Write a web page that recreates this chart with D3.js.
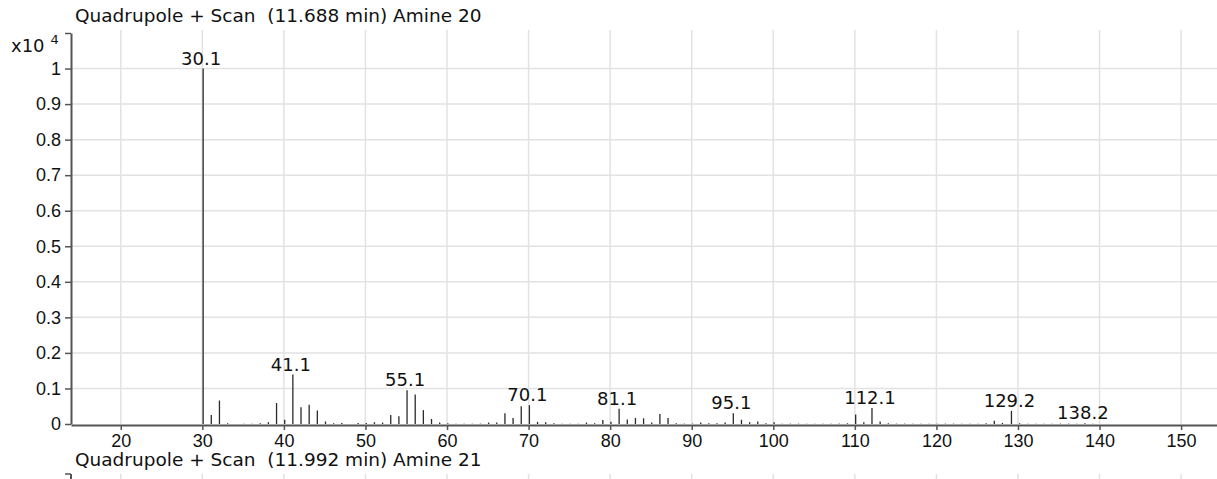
<!DOCTYPE html>
<html>
<head>
<meta charset="utf-8">
<script src="https://cdn.jsdelivr.net/npm/d3@7"></script>
<style>
  body { margin: 0; background: #fff; }
  svg { display: block; font-family: "DejaVu Sans", sans-serif; }
  text { white-space: pre; }
</style>
</head>
<body>
<svg width="1217" height="479"></svg>
<script>

// spectrum data (intensity in units of 10^4 counts)
var masses = [30.1, 31.1, 32.1, 33.1, 35.1, 36.1, 37.1, 38.1, 39.1, 40.1,
  41.1, 42.1, 43.1, 44.1, 45.1, 46.1, 47.1, 49.1, 50.1, 51.1,
  52.1, 53.1, 54.1, 55.1, 56.1, 57.1, 58.1, 59.1, 60.1, 61.1,
  62.1, 63.1, 64.1, 65.1, 66.1, 67.1, 68.1, 69.1, 70.1, 71.1,
  72.1, 73.1, 74.1, 75.1, 76.1, 77.1, 78.1, 79.1, 80.1, 81.1,
  82.1, 83.1, 84.1, 85.1, 86.1, 87.1, 88.1, 89.1, 90.1, 91.1,
  92.1, 93.1, 94.1, 95.1, 96.1, 97.1, 98.1, 99.1, 100.1, 101.1,
  102.1, 103.1, 104.1, 105.1, 106.1, 107.1, 108.1, 109.1, 110.1, 111.1,
  112.1, 113.1, 114.1, 115.1, 116.1, 117.1, 118.1, 119.1, 120.1, 121.1,
  122.1, 123.1, 124.1, 125.1, 126.1, 127.1, 128.1, 129.2, 130.2, 131.2,
  132.2, 133.2, 134.2, 135.2, 136.2, 137.2, 138.2, 139.2];
var intensities = [1.0, 0.025, 0.066, 0.002, 0.001, 0.001, 0.002, 0.005, 0.059, 0.012,
  0.139, 0.047, 0.054, 0.038, 0.007, 0.002, 0.003, 0.003, 0.003, 0.005,
  0.004, 0.025, 0.022, 0.095, 0.083, 0.039, 0.014, 0.004, 0.002, 0.001,
  0.001, 0.001, 0.001, 0.004, 0.004, 0.030, 0.017, 0.050, 0.053, 0.006,
  0.005, 0.002, 0.001, 0.001, 0.001, 0.004, 0.002, 0.011, 0.006, 0.043,
  0.013, 0.017, 0.016, 0.004, 0.028, 0.017, 0.002, 0.001, 0.001, 0.004,
  0.002, 0.002, 0.004, 0.030, 0.012, 0.005, 0.007, 0.002, 0.005, 0.001,
  0.001, 0.001, 0.001, 0.001, 0.001, 0.001, 0.001, 0.002, 0.027, 0.005,
  0.045, 0.007, 0.002, 0.001, 0.001, 0.001, 0.001, 0.001, 0.001, 0.001,
  0.001, 0.001, 0.001, 0.001, 0.002, 0.009, 0.003, 0.037, 0.002, 0.001,
  0.001, 0.001, 0.001, 0.001, 0.001, 0.001, 0.002, 0.001];

var labelled = [30.1, 41.1, 55.1, 70.1, 81.1, 95.1, 112.1, 129.2, 138.2];

var xTicks = [20, 30, 40, 50, 60, 70, 80, 90, 100, 110, 120, 130, 140, 150];
var yTicks = [0, 0.1, 0.2, 0.3, 0.4, 0.5, 0.6, 0.7, 0.8, 0.9, 1];

var titleTop = "Quadrupole + Scan  (11.688 min) Amine 20";
var titleNext = "Quadrupole + Scan  (11.992 min) Amine 21";

var svg = d3.select("svg"),
    plotLeft = 71,
    plotRight = 1217,
    plotTop = 33,
    plotBottom = 424,
    fs = 18;

var x = d3.scaleLinear().domain([13.9, 154.4]).range([plotLeft, plotRight]);
var y = d3.scaleLinear().domain([0, 1.1]).range([plotBottom, plotTop]);

// grid
svg.append("g")
  .selectAll("line")
  .data(xTicks)
  .join("line")
    .attr("x1", d => x(d)).attr("x2", d => x(d))
    .attr("y1", plotTop - 3).attr("y2", plotBottom)
    .attr("stroke", "#e2e2e2")
    .attr("stroke-width", 1.5);

svg.append("g")
  .selectAll("line")
  .data(yTicks.slice(1))
  .join("line")
    .attr("x1", plotLeft).attr("x2", plotRight)
    .attr("y1", d => y(d)).attr("y2", d => y(d))
    .attr("stroke", "#e2e2e2")
    .attr("stroke-width", 1.5);

// title
svg.append("text")
  .attr("x", 75).attr("y", 22)
  .attr("font-size", 18.5)
  .attr("fill", "#111")
  .text(titleTop);

// peaks
var peaks = masses.map(function(m, i) { return {mz: m, v: intensities[i]}; });

svg.append("g")
  .selectAll("line")
  .data(peaks)
  .join("line")
    .attr("x1", d => x(d.mz)).attr("x2", d => x(d.mz))
    .attr("y1", y(0)).attr("y2", d => y(d.v))
    .attr("stroke", "#2a2a2a")
    .attr("stroke-width", 1.3);

svg.append("g")
  .selectAll("text")
  .data(peaks.filter(d => labelled.indexOf(d.mz) >= 0))
  .join("text")
    .attr("x", d => x(d.mz) - 2)
    .attr("y", d => y(d.v) - 4)
    .attr("text-anchor", "middle")
    .attr("font-size", fs)
    .attr("fill", "#111")
    .text(d => d.mz.toFixed(1));

// axes
var xAxis = svg.append("g")
  .attr("transform", "translate(0," + (plotBottom + 1) + ")")
  .call(d3.axisBottom(x).tickValues(xTicks).tickSize(5).tickSizeOuter(0).tickPadding(4));

var yAxis = svg.append("g")
  .attr("transform", "translate(" + plotLeft + ",0)")
  .call(d3.axisLeft(y).tickValues(yTicks.concat([1.1])).tickSize(6).tickSizeOuter(0).tickPadding(4)
    .tickFormat(d => d > 1 ? "" : d3.format("~g")(d)));

[xAxis, yAxis].forEach(function(g) {
  g.select(".domain").attr("stroke", "#555").attr("stroke-width", 2);
  g.selectAll(".tick line").attr("stroke", "#555").attr("stroke-width", 1.5);
  g.selectAll(".tick text").attr("font-size", fs).attr("fill", "#111")
    .attr("font-family", null);
});

// exponent label
var expo = svg.append("text")
  .attr("x", 11).attr("y", 52)
  .attr("font-size", fs)
  .attr("fill", "#111");
expo.append("tspan").text("x10");
expo.append("tspan").attr("dx", 6).attr("dy", -8).attr("font-size", 13).text("4");

// next panel, cut off by the window
svg.append("text")
  .attr("x", 75).attr("y", 466)
  .attr("font-size", 18.5)
  .attr("fill", "#111")
  .text(titleNext);

var nextTop = 474;
svg.append("g")
  .selectAll("line")
  .data(xTicks)
  .join("line")
    .attr("x1", d => x(d)).attr("x2", d => x(d))
    .attr("y1", nextTop).attr("y2", 479)
    .attr("stroke", "#e2e2e2")
    .attr("stroke-width", 1.5);
svg.append("line")
  .attr("x1", plotLeft).attr("x2", plotLeft)
  .attr("y1", nextTop).attr("y2", 479)
  .attr("stroke", "#555").attr("stroke-width", 2);
svg.append("line")
  .attr("x1", plotLeft - 6).attr("x2", plotLeft)
  .attr("y1", nextTop).attr("y2", nextTop)
  .attr("stroke", "#555").attr("stroke-width", 1.5);

</script>
</body>
</html>
